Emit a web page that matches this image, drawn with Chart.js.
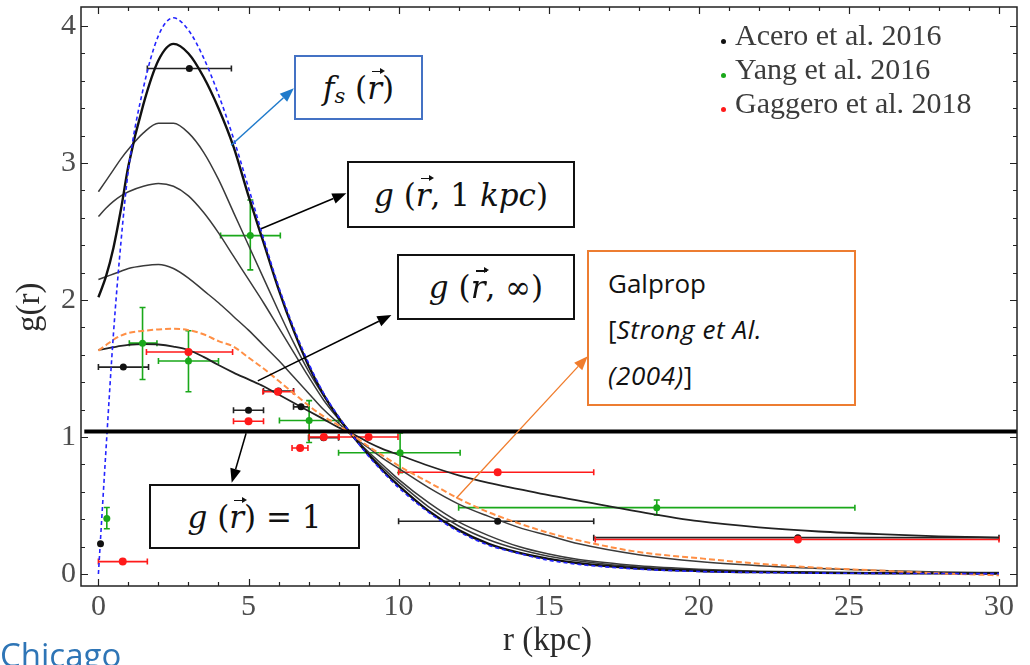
<!DOCTYPE html>
<html>
<head>
<meta charset="utf-8">
<script src="https://cdn.jsdelivr.net/npm/chart.js@4.4.1/dist/chart.umd.min.js"></script>
<style>
  html, body { margin: 0; padding: 0; background: #fff; overflow: hidden; }
  #wrap { position: relative; width: 1030px; height: 665px; }
  #grafico { position: absolute; left: 0; top: 0; }
  .caja { position: absolute; box-sizing: border-box; background: #fff; border: 2px solid #111;
          display: flex; align-items: center; justify-content: center;
          font-family: "DejaVu Serif", serif; font-size: 31px; color: #111; white-space: nowrap; }
  .caja i { font-style: italic; }
  .vec { position: relative; display: inline-block; }
  .vec::before { content: ""; position: absolute; left: 5px; top: 1px; width: 11px; height: 1.5px; background: #111; }
  .vec::after { content: ""; position: absolute; left: 13px; top: -2px; border-left: 5px solid #111;
                border-top: 3.5px solid transparent; border-bottom: 3.5px solid transparent; width: 0; height: 0; }
  #cajaFs { left: 294px; top: 55px; width: 129px; height: 65px; border-color: #4472c4; }
  #caja1kpc { left: 347px; top: 161px; width: 228px; height: 67px; }
  #cajaInf { left: 397px; top: 254px; width: 178px; height: 66px; }
  #cajaUno { left: 149px; top: 484px; width: 211px; height: 65px; }
  #cajaGalprop { left: 587px; top: 250px; width: 269px; height: 156px; border-color: #ed7d31;
                 display: block; padding: 8px 0 0 19px; font-family: "Open Sans", sans-serif;
                 font-size: 26px; line-height: 46px; }
  #cajaGalprop i { letter-spacing: 0.6px; }
  #leyenda { position: absolute; left: 721px; top: 18px; font-family: "Liberation Serif", serif;
             font-size: 30px; line-height: 34px; color: #3c3c3c; }
  #leyenda span.punto { display: inline-block; width: 5px; height: 5px; border-radius: 50%;
                        margin-right: 9px; vertical-align: 1px; }
  .titulo { position: absolute; font-family: "Liberation Serif", serif; font-size: 33px; color: #2a2a2a; }
  #tituloX { left: 503px; top: 621px; }
  #tituloY { left: -6px; top: 278px; transform: rotate(-90deg); transform-origin: 35px 19px; }
  #chicago { position: absolute; left: 0px; top: 632px; font-family: "Open Sans", sans-serif;
             font-size: 33px; color: #2e75b6; }
</style>
</head>
<body>
<div id="wrap">
  <canvas id="grafico" width="1030" height="665"></canvas>
  <div class="caja" id="cajaFs"><i>f</i><i style="font-size:21px;position:relative;top:8px">s</i>&nbsp;(<i class="vec">r</i>)</div>
  <div class="caja" id="caja1kpc"><i>g</i>&nbsp;(<i class="vec">r</i>, 1&nbsp;<i>kpc</i>)</div>
  <div class="caja" id="cajaInf"><i>g</i>&nbsp;(<i class="vec">r</i>, ∞)</div>
  <div class="caja" id="cajaUno"><i>g</i>&nbsp;(<i class="vec">r</i>) = 1</div>
  <div class="caja" id="cajaGalprop">Galprop<br>[<i>Strong et Al.</i><br><i>(2004)</i>]</div>
  <div id="leyenda"></div>
  <div class="titulo" id="tituloX">r (kpc)</div>
  <div class="titulo" id="tituloY">g(r)</div>
  <div id="chicago">Chicago</div>
</div>
<script>
// ---- DATOS: CURVAS ----
const rGrid = [0, 0.25, 0.5, 0.75, 1, 1.5, 2, 2.5, 3, 3.5, 4, 4.5, 5, 5.5, 6, 6.5, 7, 7.5, 8, 8.5,
               9, 9.5, 10, 11, 12, 13, 14, 15, 16, 18, 20, 22, 24, 26, 28, 30];
const fsVals = [0, 0.9, 1.75, 2.42, 2.95, 3.55, 3.93, 4.06, 3.97, 3.77, 3.5, 3.18, 2.82, 2.45, 2.1, 1.8, 1.54, 1.32, 1.15, 1.0,
                0.86, 0.74, 0.63, 0.45, 0.31, 0.21, 0.15, 0.1, 0.07, 0.035, 0.018, 0.01, 0.006, 0.004, 0.003, 0.002];
const g1kpcVals = [2.02, 2.17, 2.38, 2.66, 2.98, 3.43, 3.75, 3.87, 3.8, 3.63, 3.4, 3.12, 2.76, 2.42, 2.08, 1.78, 1.52, 1.31, 1.14, 1.0,
                   0.87, 0.75, 0.645, 0.46, 0.32, 0.22, 0.155, 0.11, 0.078, 0.04, 0.022, 0.013, 0.008, 0.005, 0.004, 0.003];
const gBVals = [2.79, 2.87, 2.95, 3.03, 3.1, 3.22, 3.29, 3.29, 3.22, 3.08, 2.88, 2.64, 2.4, 2.16, 1.92, 1.69, 1.48, 1.3, 1.14, 1.0,
                0.88, 0.77, 0.67, 0.49, 0.35, 0.25, 0.18, 0.13, 0.095, 0.05, 0.028, 0.016, 0.01, 0.007, 0.005, 0.004];
const gCVals = [2.61, 2.67, 2.72, 2.76, 2.79, 2.83, 2.85, 2.83, 2.76, 2.64, 2.49, 2.32, 2.15, 1.98, 1.8, 1.62, 1.44, 1.27, 1.13, 1.0,
                0.89, 0.79, 0.69, 0.52, 0.38, 0.28, 0.2, 0.145, 0.105, 0.06, 0.035, 0.02, 0.013, 0.009, 0.006, 0.005];
const gDVals = [2.15, 2.17, 2.19, 2.21, 2.23, 2.25, 2.26, 2.23, 2.16, 2.07, 1.98, 1.88, 1.78, 1.67, 1.56, 1.44, 1.32, 1.2, 1.1, 1.0,
                0.92, 0.84, 0.77, 0.63, 0.51, 0.42, 0.34, 0.28, 0.22, 0.14, 0.09, 0.06, 0.04, 0.025, 0.015, 0.01];
const gInfVals = [1.635, 1.645, 1.655, 1.665, 1.672, 1.678, 1.675, 1.66, 1.635, 1.585, 1.525, 1.47, 1.42, 1.37, 1.31, 1.25, 1.19, 1.13, 1.07, 1.02,
                  0.96, 0.91, 0.87, 0.79, 0.72, 0.665, 0.62, 0.575, 0.535, 0.455, 0.385, 0.34, 0.31, 0.29, 0.275, 0.265];
const galpropVals = [1.63, 1.67, 1.71, 1.74, 1.76, 1.775, 1.785, 1.79, 1.78, 1.75, 1.7, 1.66, 1.58, 1.5, 1.41, 1.32, 1.23, 1.15, 1.085, 1.01,
                     0.93, 0.86, 0.79, 0.67, 0.55, 0.45, 0.37, 0.3, 0.245, 0.16, 0.115, 0.075, 0.045, 0.025, 0.005, -0.01];
const unoR = [-0.47, 30.6];
const unoG = [1.04, 1.04];

// ---- DATOS: MEDIDAS ----
const aceroR   = [0.07, 0.83, 3.03, 5.0, 6.0, 6.75, 7.5, 13.3, 23.3];
const aceroG   = [0.22, 1.51, 3.69, 1.195, 1.335, 1.22, 0.995, 0.385, 0.265];
const aceroRLo = [null, 0.0, 1.63, 4.5, 5.5, 6.5, 7.0, 10.0, 16.5];
const aceroRHi = [null, 1.67, 4.43, 5.5, 6.5, 7.0, 8.0, 16.5, 30.0];

const yangR   = [0.28, 1.47, 3.0, 5.06, 7.02, 10.05, 18.6];
const yangG   = [0.405, 1.685, 1.555, 2.47, 1.12, 0.885, 0.484];
const yangRLo = [null, 1.03, 2.0, 4.07, 6.03, 8.0, 12.0];
const yangRHi = [null, 1.95, 4.0, 6.06, 8.01, 12.05, 25.2];
const yangGLo = [0.33, 1.42, 1.33, 2.22, 0.96, 0.74, 0.43];
const yangGHi = [0.485, 1.945, 1.775, 2.73, 1.265, 1.03, 0.54];

const gaggeroR   = [0.81, 3.0, 5.0, 5.98, 6.72, 7.51, 9.0, 13.3, 23.3];
const gaggeroG   = [0.09, 1.62, 1.115, 1.33, 0.92, 1.0, 1.0, 0.742, 0.252];
const gaggeroRLo = [0.0, 1.6, 4.5, 5.48, 6.45, 7.02, 8.02, 10.0, 16.55];
const gaggeroRHi = [1.63, 4.47, 5.5, 6.5, 6.98, 8.0, 9.98, 16.5, 30.0];

const leyendaTextos = ["Acero et al. 2016", "Yang et al. 2016", "Gaggero et al. 2018"];
const leyendaColores = ["#111111", "#1aa81a", "#ff1a1a"];

// ---- FLECHAS (coordenadas en unidades de datos) ----
const flechaDesde = [[4.42, 3.13], [5.42, 2.52], [5.31, 1.41], [4.92, 1.027], [11.92, 0.553]];
const flechaHasta = [[6.51, 3.545], [8.26, 2.78], [9.76, 1.89], [4.44, 0.666], [16.3, 1.59]];
const flechaColor = ["#1f7acb", "#000", "#000", "#000", "#f07c2c"];
const flechaAncho = [1.5, 1.5, 1.5, 1.5, 1.3];

// ---- LEYENDA ----
document.getElementById("leyenda").innerHTML = leyendaTextos.map((t, i) =>
  `<div><span class="punto" style="background:${leyendaColores[i]}"></span>${t}</div>`).join("");

const pts = (xs, ys) => xs.map((x, i) => ({ x: x, y: ys[i] }));

function curva(vals, color, width, dash) {
  return {
    data: pts(rGrid, vals), showLine: true, borderColor: color, borderWidth: width,
    borderDash: dash || [], pointRadius: 0, cubicInterpolationMode: "monotone", fill: false
  };
}

function puntos(xs, ys, color, radius) {
  return { data: pts(xs, ys), showLine: false, pointRadius: radius, pointHoverRadius: radius,
           backgroundColor: color, borderColor: color, borderWidth: 0 };
}

// ---- BARRAS DE ERROR, MARCO Y FLECHAS ----
const errores = [
  { r: aceroR, g: aceroG, rLo: aceroRLo, rHi: aceroRHi, gLo: null, gHi: null, color: "#222" },
  { r: yangR, g: yangG, rLo: yangRLo, rHi: yangRHi, gLo: yangGLo, gHi: yangGHi, color: "#1aa81a" },
  { r: gaggeroR, g: gaggeroG, rLo: gaggeroRLo, rHi: gaggeroRHi, gLo: null, gHi: null, color: "#ff1a1a" }
];

const pluginExtras = {
  id: "extras",
  beforeDatasetsDraw(chart) {
    const ctx = chart.ctx, sx = chart.scales.x, sy = chart.scales.y;
    ctx.save();
    ctx.lineWidth = 1.6;
    errores.forEach(e => {
      ctx.strokeStyle = e.color;
      e.r.forEach((r, i) => {
        const py = sy.getPixelForValue(e.g[i]);
        const px = sx.getPixelForValue(r);
        if (e.rLo && e.rLo[i] !== null) {
          const a = sx.getPixelForValue(e.rLo[i]), b = sx.getPixelForValue(e.rHi[i]);
          ctx.beginPath();
          ctx.moveTo(a, py); ctx.lineTo(b, py);
          ctx.moveTo(a, py - 3); ctx.lineTo(a, py + 3);
          ctx.moveTo(b, py - 3); ctx.lineTo(b, py + 3);
          ctx.stroke();
        }
        if (e.gLo && e.gLo[i] !== null) {
          const a = sy.getPixelForValue(e.gLo[i]), b = sy.getPixelForValue(e.gHi[i]);
          ctx.beginPath();
          ctx.moveTo(px, a); ctx.lineTo(px, b);
          ctx.moveTo(px - 3, a); ctx.lineTo(px + 3, a);
          ctx.moveTo(px - 3, b); ctx.lineTo(px + 3, b);
          ctx.stroke();
        }
      });
    });
    ctx.restore();
  },
  afterDraw(chart) {
    const ctx = chart.ctx, sx = chart.scales.x, sy = chart.scales.y, ca = chart.chartArea;
    ctx.save();
    // marco
    ctx.strokeStyle = "#222";
    ctx.lineWidth = 1.5;
    ctx.strokeRect(ca.left, ca.top, ca.right - ca.left, ca.bottom - ca.top);
    // marcas x
    ctx.lineWidth = 1.2;
    ctx.beginPath();
    for (let r = 0; r <= 30; r++) {
      const px = Math.round(sx.getPixelForValue(r)) + 0.5;
      const len = r % 5 === 0 ? 7 : 4;
      ctx.moveTo(px, ca.bottom); ctx.lineTo(px, ca.bottom - len);
      ctx.moveTo(px, ca.top); ctx.lineTo(px, ca.top + len);
    }
    // marcas y
    for (let k = 0; k <= 20; k++) {
      const py = Math.round(sy.getPixelForValue(k * 0.2)) + 0.5;
      const len = k % 5 === 0 ? 7 : 4;
      ctx.moveTo(ca.left, py); ctx.lineTo(ca.left + len, py);
      ctx.moveTo(ca.right, py); ctx.lineTo(ca.right - len, py);
    }
    ctx.stroke();
    // flechas
    flechaDesde.forEach((f, i) => {
      const x1 = sx.getPixelForValue(f[0]), y1 = sy.getPixelForValue(f[1]);
      const x2 = sx.getPixelForValue(flechaHasta[i][0]), y2 = sy.getPixelForValue(flechaHasta[i][1]);
      const ang = Math.atan2(y2 - y1, x2 - x1);
      const hl = 14, hw = 11;
      ctx.strokeStyle = flechaColor[i];
      ctx.fillStyle = flechaColor[i];
      ctx.lineWidth = flechaAncho[i];
      ctx.beginPath();
      ctx.moveTo(x1, y1);
      ctx.lineTo(x2 - hl * Math.cos(ang), y2 - hl * Math.sin(ang));
      ctx.stroke();
      const bx = x2 - hl * Math.cos(ang), by = y2 - hl * Math.sin(ang);
      ctx.beginPath();
      ctx.moveTo(x2, y2);
      ctx.lineTo(bx + hw / 2 * Math.sin(ang), by - hw / 2 * Math.cos(ang));
      ctx.lineTo(bx - hw / 2 * Math.sin(ang), by + hw / 2 * Math.cos(ang));
      ctx.closePath();
      ctx.fill();
    });
    ctx.restore();
  }
};

// ---- CHART.JS ----
const ctx = document.getElementById("grafico").getContext("2d");
const grafico = new Chart(ctx, {
  type: "scatter",
  data: {
    datasets: [
      puntos(gaggeroR, gaggeroG, "#ff1a1a", 4),
      puntos(yangR, yangG, "#1aa81a", 3.5),
      puntos(aceroR, aceroG, "#111111", 3.5),
      { data: pts(unoR, unoG), showLine: true, borderColor: "#000", borderWidth: 4, pointRadius: 0 },
      curva(fsVals, "#2424ff", 1.6, [4, 3]),
      curva(galpropVals, "#ff8f45", 2, [6, 3]),
      curva(g1kpcVals, "#111", 2.4),
      curva(gBVals, "#3a3a3a", 1.5),
      curva(gCVals, "#3a3a3a", 1.5),
      curva(gDVals, "#3a3a3a", 1.5),
      curva(gInfVals, "#222", 1.8)
    ]
  },
  options: {
    responsive: false,
    animation: false,
    events: [],
    layout: { padding: { top: 7, right: 13, left: 0, bottom: 0 } },
    plugins: { legend: { display: false }, tooltip: { enabled: false } },
    scales: {
      x: {
        type: "linear", min: -0.58, max: 30.6,
        grid: { display: false, drawTicks: false }, border: { display: false },
        ticks: { stepSize: 5, includeBounds: false, autoSkip: false, maxRotation: 0, padding: 3,
                 color: "#4d4d4d", font: { family: "Liberation Serif", size: 30 } },
        afterFit: s => { s.height = 79; s.paddingLeft = 0; s.paddingRight = 0; }
      },
      y: {
        type: "linear", min: -0.088, max: 4.139,
        grid: { display: false, drawTicks: false }, border: { display: false },
        ticks: { stepSize: 1, includeBounds: false, autoSkip: false, padding: 5,
                 color: "#4d4d4d", font: { family: "Liberation Serif", size: 30 } },
        afterFit: s => { s.width = 81; s.paddingTop = 0; s.paddingBottom = 0; }
      }
    }
  },
  plugins: [pluginExtras]
});
</script>
</body>
</html>
